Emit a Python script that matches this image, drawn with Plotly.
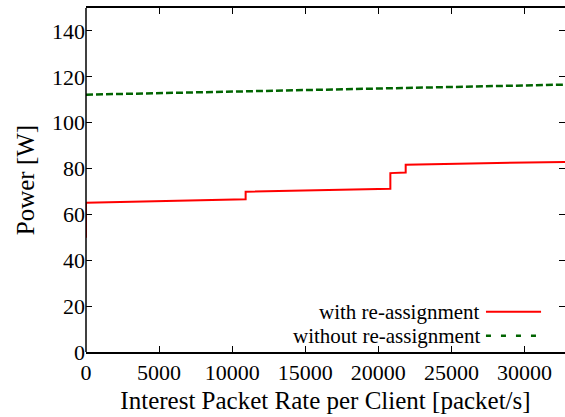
import plotly.graph_objects as go

# Power consumption vs. interest packet rate per client
rate_with = [0, 0, 10920, 10920, 20820, 20820, 21870, 21870, 32768]
power_with = [49.8, 65.1, 66.6, 69.9, 71.2, 78.0, 78.3, 81.7, 82.9]

rate_without = [0, 32768]
power_without = [112.2, 116.6]

x_ticks = [0, 5000, 10000, 15000, 20000, 25000, 30000]
y_ticks = [0, 20, 40, 60, 80, 100, 120, 140]

series_names = ["with re-assignment", "without re-assignment"]
series_colors = ["#ff0000", "#006400"]

FONT = "'Liberation Serif', 'Times New Roman', serif"

fig = go.Figure()
fig.add_trace(go.Scatter(x=rate_with, y=power_with, mode="lines",
                         line=dict(color=series_colors[0], width=2),
                         name=series_names[0], showlegend=False))
fig.add_trace(go.Scatter(x=rate_without, y=power_without, mode="lines",
                         line=dict(color=series_colors[1], width=2.5, dash="7px,3px"),
                         name=series_names[1], showlegend=False))

# gnuplot-style key: right-aligned text with a line sample on its right
key_styles = [("solid", 2), ("5px,10px", 2.5)]
key_y = [0.117, 0.047]
for name, col, (dash, w), yk in zip(series_names, series_colors, key_styles, key_y):
    fig.add_annotation(x=0.826, y=yk, xref="paper", yref="paper", text=name,
                       showarrow=False, xanchor="right", yanchor="middle",
                       font=dict(family=FONT, size=21, color="black"))
    fig.add_shape(type="line", xref="paper", yref="paper",
                  x0=0.835, x1=0.950, y0=yk, y1=yk,
                  line=dict(color=col, width=w, dash=dash))

# left border (right side of the frame falls off the canvas)
fig.add_shape(type="line", xref="paper", yref="paper", x0=0, x1=0, y0=0, y1=1,
              line=dict(color="black", width=1.5))

tick_common = dict(ticks="inside", ticklen=6, tickcolor="black", tickwidth=1,
                   mirror="ticks", showgrid=False, zeroline=False,
                   tickfont=dict(family=FONT, size=22, color="black"))

fig.update_layout(
    width=565, height=417,
    margin=dict(l=86, r=0, t=8, b=65),
    paper_bgcolor="white", plot_bgcolor="white",
    font=dict(family=FONT, size=22, color="black"),
    xaxis=dict(range=[0, 32768], tickvals=x_ticks, ticktext=[str(v) for v in x_ticks],
               showline=True, linecolor="black", linewidth=1.5,
               title=dict(text="Interest Packet Rate per Client [packet/s]",
                          font=dict(family=FONT, size=25, color="black"), standoff=7),
               **tick_common),
    yaxis=dict(range=[0, 150], tickvals=y_ticks, ticktext=[str(v) for v in y_ticks],
               showline=False,
               title=dict(text="Power [W]",
                          font=dict(family=FONT, size=25, color="black"), standoff=10),
               **tick_common),
)

fig.write_html("out.html")
